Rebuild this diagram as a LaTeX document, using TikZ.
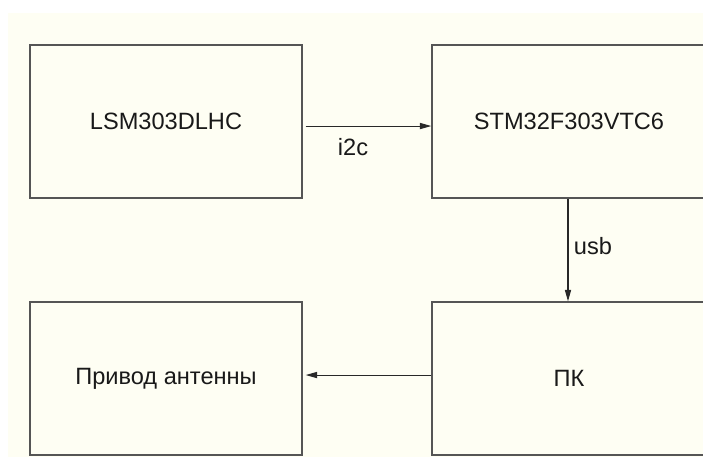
\documentclass[tikz,border=0pt]{standalone}
\usepackage{fontspec}
\setmainfont{Liberation Sans}
\usetikzlibrary{arrows.meta,calc}
\definecolor{cream}{RGB}{254,254,243}
\definecolor{boxline}{RGB}{85,85,85}
\definecolor{arrline}{RGB}{40,40,40}
\begin{document}
\begin{tikzpicture}[x=0.75pt,y=-0.75pt,
  blockbox/.style={draw=boxline,line width=1.1pt,rectangle,minimum width=204pt,minimum height=114.75pt,inner sep=0pt,
    font=\fontsize{17.7pt}{20pt}\selectfont,text=black!90},
  blockboxwide/.style={blockbox,minimum width=205.5pt},
  arr/.style={draw=arrline,line width=0.8pt,-{Triangle[length=8.5pt,width=4.6pt]}},
  lbl/.style={font=\fontsize{17.7pt}{20pt}\selectfont,text=black!90,inner sep=0pt}]
\useasboundingbox (0,0) rectangle (703,457);
\fill[white] (0,0) rectangle (703,457);
\fill[cream] (8,13) rectangle (703,457);
\begin{scope}
\clip (0,0) rectangle (703,457);
\node[blockbox] (b1) at (166,121.5) {LSM303DLHC};
\node[blockboxwide] (b2) at (569,121.5) {STM32F303VTC6};
\node[blockboxwide] (b3) at (569,378.5) {ПК};
\node[blockbox] (b4) at (166,378.5) {Привод антенны};
\end{scope}
\draw[arr] ([xshift=2.25pt,yshift=-3.4pt]b1.east) -- ([yshift=-3.4pt]b2.west);
\draw[arr] ([xshift=-0.75pt]b2.south) -- ([xshift=-0.75pt]b3.north);
\draw[arr] ([yshift=2.6pt]b3.west) -- ([xshift=2.25pt,yshift=2.6pt]b4.east);
\node[lbl] (l1) at (353,147) {i2c};
\node[lbl] (l2) at (593,246) {usb};
\end{tikzpicture}
\end{document}
